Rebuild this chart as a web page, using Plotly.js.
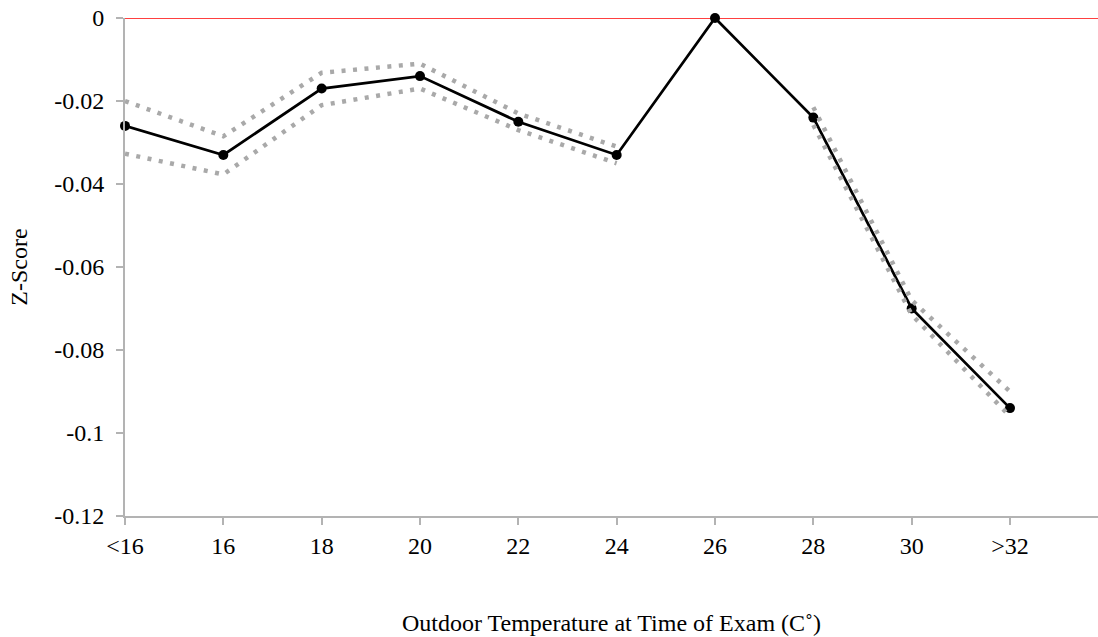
<!DOCTYPE html>
<html>
<head>
<meta charset="utf-8">
<script src="https://cdn.plot.ly/plotly-3.0.1.min.js"></script>
<style>html,body{margin:0;padding:0;background:#fff;}#chart{width:1098px;height:637px;}</style>
</head>
<body>
<div id="chart"></div>
<script>
const categories = ["<16", "16", "18", "20", "22", "24", "26", "28", "30", ">32"];
const zScore = [-0.026, -0.033, -0.017, -0.014, -0.025, -0.033, 0.000, -0.024, -0.070, -0.094];
const upperCI = [-0.020, -0.0285, -0.0132, -0.011, -0.023, -0.031, null, -0.0215, -0.068, -0.090];
const lowerCI = [-0.0327, -0.0377, -0.021, -0.017, -0.027, -0.035, null, -0.0258, -0.0715, -0.096];
const yTickVals = [0, -0.02, -0.04, -0.06, -0.08, -0.1, -0.12];
const yTickText = ["0", "-0.02", "-0.04", "-0.06", "-0.08", "-0.1", "-0.12"];

const xIdx = categories.map((c, i) => i);
const font = "'Liberation Serif', 'Times New Roman', serif";
const axisGray = "#b3b3b3";
const ciStyle = {color: "#a9a9a9", width: 4.5, dash: "4px,7.5px"};

const traces = [
  {x: xIdx, y: zScore, type: "scatter", mode: "lines+markers", name: "Z-Score",
   line: {color: "#000000", width: 2.75}, marker: {color: "#000000", size: 10},
   cliponaxis: false, showlegend: false},
  {x: xIdx, y: upperCI, type: "scatter", mode: "lines", name: "Upper CI",
   line: ciStyle, connectgaps: false, cliponaxis: false, showlegend: false},
  {x: xIdx, y: lowerCI, type: "scatter", mode: "lines", name: "Lower CI",
   line: ciStyle, connectgaps: false, cliponaxis: false, showlegend: false}
];

const layout = {
  width: 1098, height: 637,
  margin: {l: 125, r: 0, t: 18, b: 121},
  paper_bgcolor: "#ffffff", plot_bgcolor: "#ffffff",
  font: {family: font, size: 24, color: "#000000"},
  showlegend: false,
  xaxis: {
    range: [0, 9.895], tickvals: xIdx, ticktext: categories,
    showgrid: false, zeroline: false, showline: true, linecolor: axisGray, linewidth: 2,
    ticks: "outside", ticklen: 7, tickwidth: 2, tickcolor: axisGray,
    ticklabelstandoff: 0,
    tickfont: {family: font, size: 24, color: "#000000"},
    title: {text: "Outdoor Temperature at Time of Exam (C˚)", standoff: 56,
            font: {family: font, size: 24, color: "#000000"}}
  },
  yaxis: {
    range: [-0.12, 0], tickvals: yTickVals, ticktext: yTickText,
    showgrid: false, zeroline: false, showline: true, linecolor: axisGray, linewidth: 2,
    ticks: "outside", ticklen: 7, tickwidth: 2, tickcolor: axisGray,
    ticklabelstandoff: 7,
    tickfont: {family: font, size: 24, color: "#000000"},
    title: {text: "Z-Score", standoff: 20, font: {family: font, size: 24, color: "#000000"}}
  },
  shapes: [
    {type: "line", xref: "paper", yref: "y", x0: 0, x1: 1, y0: 0, y1: 0,
     line: {color: "#ff0000", width: 1.5}, layer: "below"}
  ]
};

Plotly.newPlot("chart", traces, layout, {displayModeBar: false, staticPlot: true});
</script>
</body>
</html>
